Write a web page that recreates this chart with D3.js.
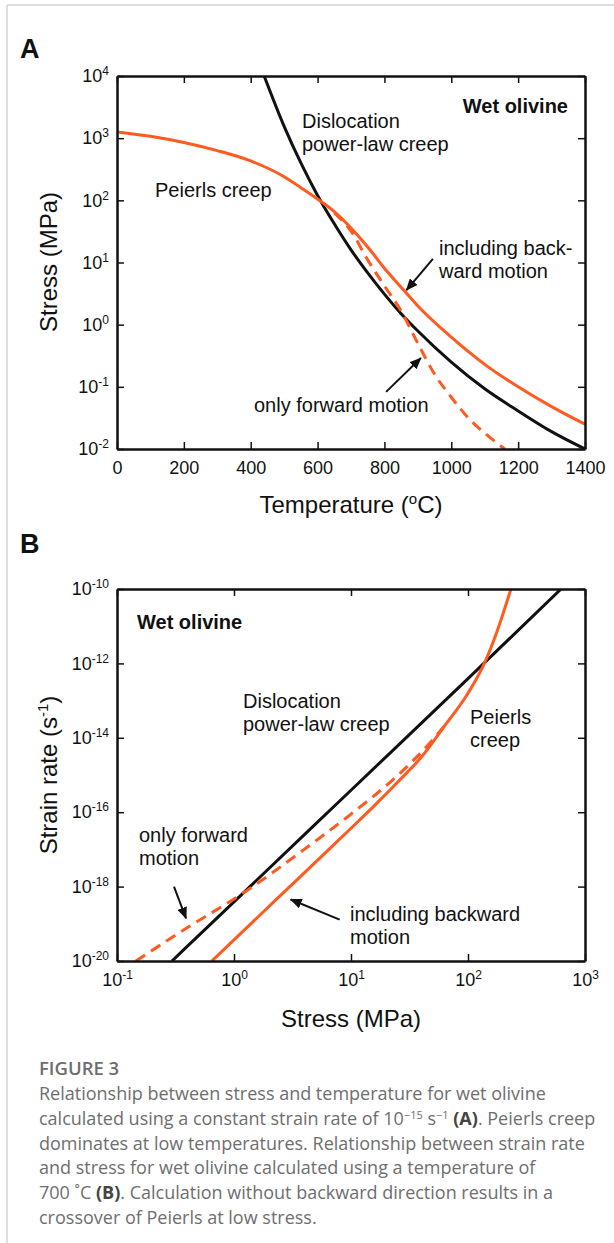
<!DOCTYPE html>
<html>
<head>
<meta charset="utf-8">
<script src="https://cdn.jsdelivr.net/npm/d3@7"></script>
<style>
  body { margin: 0; background: #fff; }
  svg text { font-family: "Liberation Sans", Arial, Helvetica, sans-serif; fill: #111; }
  .axis text { font-size: 18px; }
  .axis path.domain { stroke: #111; stroke-width: 2.5px; }
  .axis .tick line { stroke: #111; stroke-width: 1.5px; }
  .note { font-size: 20px; }
  .bold { font-weight: bold; }
  .title { font-size: 24px; }
  .caption text { font-family: "Open Sans", "Noto Sans", sans-serif; font-size: 18px; fill: #6e6e6e; }
</style>
</head>
<body>
<svg id="fig" width="614" height="1243"></svg>
<script>

// ---------- panel A : stress vs temperature (strain rate 1e-15 s-1) ----------
var tempTicks = [0, 200, 400, 600, 800, 1000, 1200, 1400];
var stressTicksA = [1e-2, 1e-1, 1e0, 1e1, 1e2, 1e3, 1e4];

var dislocationTempA = [430, 500, 550, 600, 650, 700, 750, 800, 850, 900, 1000, 1100, 1200, 1300, 1400];
var dislocationStressA = [14000, 1550, 400, 120, 42, 16, 6.8, 3.1, 1.5, 0.79, 0.25, 0.093, 0.041, 0.019, 0.01];

var peierlsTempA = [0, 100, 200, 300, 400, 500, 550, 600, 650, 700, 750, 800, 850, 900, 1000, 1100, 1200, 1300, 1400];
var peierlsStressA = [1260, 1070, 850, 630, 430, 240, 160, 105, 66, 36, 17.8, 8.1, 4.0, 2.0, 0.63, 0.23, 0.10, 0.048, 0.025];

var forwardTempA = [650, 700, 750, 800, 850, 900, 950, 1000, 1050, 1100, 1160];
var forwardStressA = [63, 32, 11, 4.2, 1.66, 0.50, 0.16, 0.068, 0.032, 0.018, 0.01];

// ---------- panel B : strain rate vs stress (700 C) ----------
var stressTicksB = [0.1, 1, 10, 100, 1000];
var rateTicksB = [1e-20, 1e-18, 1e-16, 1e-14, 1e-12, 1e-10];

var dislocationStressB = [0.295, 1, 10, 100, 624];
var dislocationRateB = [1e-20, 3.9e-19, 3.9e-16, 3.9e-13, 1e-10];

var peierlsStressB = [0.646, 1.585, 3.16, 6.31, 10, 15.85, 25.1, 39.8, 63.1, 100, 138, 178, 234];
var peierlsRateB = [1e-20, 1.48e-19, 1.17e-18, 9.3e-18, 3.7e-17, 1.5e-16, 6.5e-16, 3.0e-15, 2.1e-14, 1.58e-13, 1e-12, 7.6e-12, 1.05e-10];

var forwardStressB = [0.145, 0.40, 1.23, 3.98, 10, 22.4, 35.5, 50.1, 63.1];
var forwardRateB = [1e-20, 7.9e-20, 7.1e-19, 1e-17, 8.9e-17, 7.1e-16, 2.8e-15, 8.9e-15, 2.1e-14];

var orange = "#ff5a1f";

var svg = d3.select("#fig");

// frame of the article figure
svg.append("line").attr("x1", 7).attr("y1", 5).attr("x2", 614).attr("y2", 5)
    .attr("stroke", "#d4d4d4").attr("stroke-width", 1.5);
svg.append("line").attr("x1", 7).attr("y1", 5).attr("x2", 7).attr("y2", 1243)
    .attr("stroke", "#d4d4d4").attr("stroke-width", 1.5);

svg.append("defs").append("marker")
    .attr("id", "arrow")
    .attr("viewBox", "0 0 12 10")
    .attr("refX", 11).attr("refY", 5)
    .attr("markerWidth", 12).attr("markerHeight", 10)
    .attr("markerUnits", "userSpaceOnUse")
    .attr("orient", "auto")
    .append("path").attr("d", "M0,0 L12,5 L0,10 Z").attr("fill", "#111");

// writes 10^n with a raised exponent into a text node
function powerLabel(sel, d) {
    var exp = Math.round(Math.log10(d));
    sel.text(null);
    sel.append("tspan").text("10");
    sel.append("tspan").attr("dy", -7).attr("font-size", 12).text(exp);
}

/**
 * One framed panel with inward ticks on all four sides
 */
function Panel(left, top, width, height, id) {
    var self = this;
    self.width = width;
    self.height = height;
    self.g = svg.append("g").attr("transform", "translate(" + left + "," + top + ")");
    self.g.append("clipPath").attr("id", id)
        .append("rect").attr("width", width).attr("height", height);
    self.plot = self.g.append("g").attr("clip-path", "url(#" + id + ")");
}

Panel.prototype.axes = function(x, y, xTicks, yTicks, xLog) {
    var self = this;
    var bottom = self.g.append("g").attr("class", "axis")
        .attr("transform", "translate(0," + self.height + ")")
        .call(d3.axisBottom(x).tickValues(xTicks).tickSizeInner(-7).tickSizeOuter(0).tickPadding(12));
    self.g.append("g").attr("class", "axis")
        .call(d3.axisTop(x).tickValues(xTicks).tickSizeInner(-7).tickSizeOuter(0).tickFormat(""));
    var left = self.g.append("g").attr("class", "axis")
        .call(d3.axisLeft(y).tickValues(yTicks).tickSizeInner(-7).tickSizeOuter(0).tickPadding(8));
    self.g.append("g").attr("class", "axis")
        .attr("transform", "translate(" + self.width + ",0)")
        .call(d3.axisRight(y).tickValues(yTicks).tickSizeInner(-7).tickSizeOuter(0).tickFormat(""));

    left.selectAll(".tick text").each(function(d) { powerLabel(d3.select(this), d); });
    if (xLog) {
        bottom.selectAll(".tick text").each(function(d) { powerLabel(d3.select(this), d); });
    } else {
        bottom.selectAll(".tick text").text(function(d) { return d; });
    }
    self.g.selectAll(".axis").attr("font-family", null).attr("font-size", null);
};

Panel.prototype.curve = function(x, y, xs, ys, color, dash) {
    var self = this;
    var line = d3.line()
        .x(function(d) { return x(d[0]); })
        .y(function(d) { return y(d[1]); })
        .curve(d3.curveMonotoneX);
    self.plot.append("path")
        .datum(d3.zip(xs, ys))
        .attr("d", line)
        .attr("fill", "none")
        .attr("stroke", color)
        .attr("stroke-width", 3)
        .attr("stroke-dasharray", dash ? "11,7" : null);
};

Panel.prototype.arrow = function(x, y, from, to) {
    this.g.append("line")
        .attr("x1", x(from[0])).attr("y1", y(from[1]))
        .attr("x2", x(to[0])).attr("y2", y(to[1]))
        .attr("stroke", "#111").attr("stroke-width", 2)
        .attr("marker-end", "url(#arrow)");
};

Panel.prototype.note = function(px, py, lines, cls) {
    var t = this.g.append("text").attr("class", cls || "note")
        .attr("x", px).attr("y", py);
    lines.forEach(function(s, i) {
        t.append("tspan").attr("x", px).attr("dy", i ? 23 : 0).text(s);
    });
    return t;
};

// ---------- draw panel A ----------
var pA = new Panel(117, 76, 468, 373, "clipA");
var xA = d3.scaleLinear().domain([0, 1400]).range([0, 468]);
var yA = d3.scaleLog().domain([1e-2, 1e4]).range([373, 0]);

pA.curve(xA, yA, dislocationTempA, dislocationStressA, "#111", false);
pA.curve(xA, yA, forwardTempA, forwardStressA, orange, true);
pA.curve(xA, yA, peierlsTempA, peierlsStressA, orange, false);
pA.axes(xA, yA, tempTicks, stressTicksA, false);

pA.note(451, 37, ["Wet olivine"], "note bold").attr("text-anchor", "end");
pA.note(185, 52, ["Dislocation", "power-law creep"]);
pA.note(38, 121, ["Peierls creep"]);
pA.note(322, 179, ["including back-", "ward motion"]);
pA.note(137, 336, ["only forward motion"]);
pA.arrow(xA, yA, [945, 11.4], [866, 3.6]);
pA.arrow(xA, yA, [805, 0.083], [909, 0.29]);

svg.append("text").attr("class", "bold").attr("x", 20).attr("y", 58)
    .attr("font-size", 27).text("A");
var tA = svg.append("text").attr("class", "title").attr("x", 351).attr("y", 513)
    .attr("text-anchor", "middle");
tA.append("tspan").text("Temperature (");
tA.append("tspan").attr("dy", -9).attr("font-size", 15).text("o");
tA.append("tspan").attr("dy", 9).text("C)");
svg.append("text").attr("class", "title")
    .attr("transform", "translate(57,262) rotate(-90)")
    .attr("text-anchor", "middle").text("Stress (MPa)");

// ---------- draw panel B ----------
var pB = new Panel(117, 589, 468, 372, "clipB");
var xB = d3.scaleLog().domain([0.1, 1000]).range([0, 468]);
var yB = d3.scaleLog().domain([1e-20, 1e-10]).range([372, 0]);

pB.curve(xB, yB, dislocationStressB, dislocationRateB, "#111", false);
pB.curve(xB, yB, forwardStressB, forwardRateB, orange, true);
pB.curve(xB, yB, peierlsStressB, peierlsRateB, orange, false);
pB.axes(xB, yB, stressTicksB, rateTicksB, true);

pB.note(20, 40, ["Wet olivine"], "note bold");
pB.note(126, 119, ["Dislocation", "power-law creep"]);
pB.note(353, 135, ["Peierls", "creep"]);
pB.note(22, 253, ["only forward", "motion"]);
pB.note(233, 332, ["including backward", "motion"]);
pB.arrow(xB, yB, [0.307, 1.0e-18], [0.389, 1.4e-19]);
pB.arrow(xB, yB, [8.0, 1.3e-19], [3.05, 4.5e-19]);

svg.append("text").attr("class", "bold").attr("x", 20).attr("y", 553)
    .attr("font-size", 27).text("B");
svg.append("text").attr("class", "title").attr("x", 351).attr("y", 1027)
    .attr("text-anchor", "middle").text("Stress (MPa)");
var tB = svg.append("text").attr("class", "title")
    .attr("transform", "translate(57,775) rotate(-90)")
    .attr("text-anchor", "middle");
tB.append("tspan").text("Strain rate (s");
tB.append("tspan").attr("dy", -9).attr("font-size", 15).text("-1");
tB.append("tspan").attr("dy", 9).text(")");

// ---------- caption ----------
var captionLines = [
    [["Relationship between stress and temperature for wet olivine", ""]],
    [["calculated using a constant strain rate of 10", ""], ["\u221215", "sup"], [" s", ""], ["\u22121", "sup"],
     [" ", ""], ["(A)", "b"], [". Peierls creep", ""]],
    [["dominates at low temperatures. Relationship between strain rate", ""]],
    [["and stress for wet olivine calculated using a temperature of", ""]],
    [["700 \u02daC ", ""], ["(B)", "b"], [". Calculation without backward direction results in a", ""]],
    [["crossover of Peierls at low stress.", ""]]
];

var cap = svg.append("g").attr("class", "caption");
cap.append("text").attr("x", 39).attr("y", 1075)
    .attr("font-weight", 600).style("font-size", "18.5px").text("FIGURE 3");
captionLines.forEach(function(parts, i) {
    var t = cap.append("text").attr("x", 39).attr("y", 1100 + i * 24.8);
    var raised = false;
    parts.forEach(function(p) {
        var s = t.append("tspan").text(p[0]);
        if (p[1] == "sup") {
            s.attr("dy", raised ? 0 : -6).style("font-size", "11px");
            raised = true;
            return;
        }
        if (raised) {
            s.attr("dy", 6);
            raised = false;
        }
        if (p[1] == "b") {
            s.attr("font-weight", "bold").style("fill", "#444");
        }
    });
});

</script>
</body>
</html>
